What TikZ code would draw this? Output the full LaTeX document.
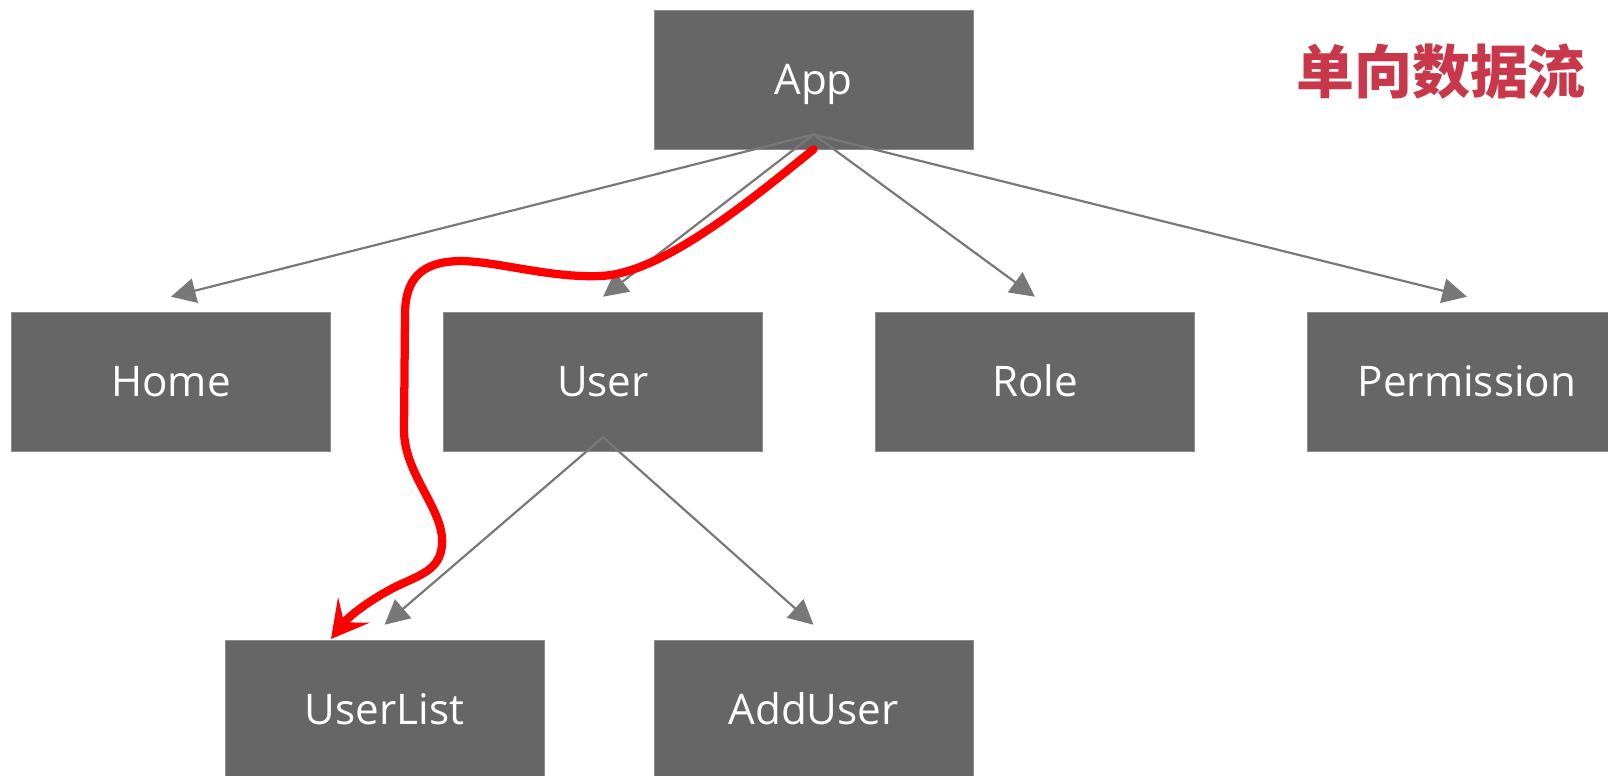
\documentclass[tikz,border=0pt]{standalone}
\usepackage{fontspec}
\setmainfont{Open Sans}
\newfontfamily\cjk{Noto Sans CJK SC}
\usepackage{tikz}
\usetikzlibrary{arrows.meta}
\definecolor{titlered}{RGB}{200,56,74}
\definecolor{boxgray}{RGB}{102,102,102}
\definecolor{linkgray}{RGB}{120,120,120}

\begin{document}
\begin{tikzpicture}[x=0.02cm,y=-0.02cm,
  comp/.style={draw=black!45,fill=boxgray,text=white,minimum width=6.38cm,minimum height=2.78cm,inner sep=0pt,text height=17.1pt,text depth=0pt,font=\fontsize{24}{28}\selectfont},
  link/.style={draw=linkgray,line width=1.25pt,-{Triangle[length=14pt,width=14pt]}},
  dataflow/.style={draw=red,line width=4.7pt,line cap=round,-{Stealth[length=21pt,width=23pt,inset=9pt]}}]

  \useasboundingbox (0,0) rectangle (1608,775);

  \node[comp] (app) at (813.5,79.5) {App};
  \node[comp] (home) at (171,381.5) {Home};
  \node[comp] (user) at (603,381.5) {User};
  \node[comp] (role) at (1035,381.5) {Role};
  \node[comp] (perm) at (1467,381.5) {Permission};
  \node[comp] (userlist) at (384.5,709.5) {UserList};
  \node[comp] (adduser) at (813.5,709.5) {AddUser};

  \coordinate (apphub) at ([yshift=8.5pt]app.south);
  \coordinate (userhub) at ([yshift=8pt]user.south);
  \draw[link] (apphub) -- ([yshift=8.5pt]home.north);
  \draw[link] (apphub) -- ([yshift=8.5pt]user.north);
  \draw[link] (apphub) -- ([yshift=8.5pt]role.north);
  \draw[link] (apphub) -- ([yshift=8.5pt]perm.north);
  \draw[link] (userhub) -- ([yshift=8.5pt]userlist.north);
  \draw[link] (userhub) -- ([yshift=8.5pt]adduser.north);

  % one way data flow
  \coordinate (flowend) at (331,639);
  \draw[dataflow] (app.south) .. controls (745,205) and (660,274) .. (600,276)
    .. controls (550,278) and (500,262) .. (462,261)
    .. controls (420,261) and (405,280) .. (405,315)
    -- (404,430)
    .. controls (404,475) and (445,510) .. (442,545)
    .. controls (440,570) and (420,575) .. (395,587)
    .. controls (370,600) and (350,615) .. (flowend);

  \node[text=titlered,font=\cjk\bfseries\fontsize{33}{36}\selectfont] (title) at (1441,72) {单向数据流};
\end{tikzpicture}
\end{document}
